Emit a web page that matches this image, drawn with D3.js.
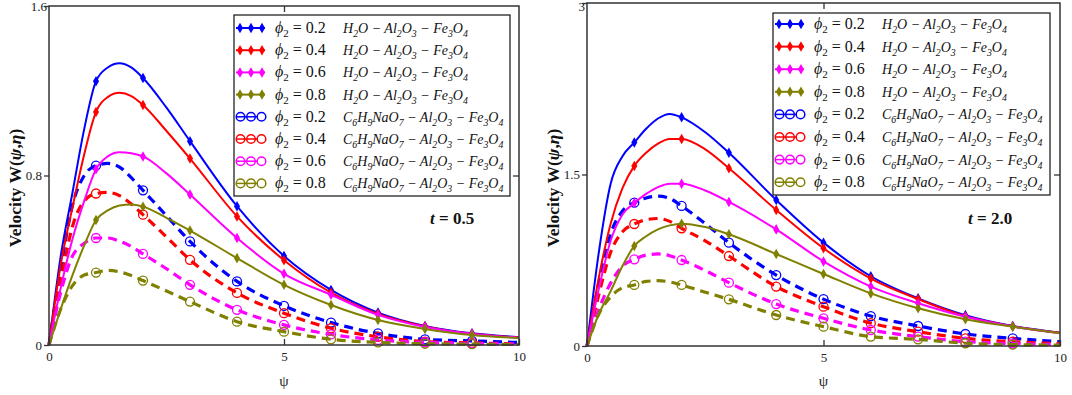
<!DOCTYPE html>
<html>
<head>
<meta charset="utf-8">
<script src="https://cdn.jsdelivr.net/npm/d3@7"></script>
<style>
  body { margin: 0; background: #fff; }
  svg { display: block; }
</style>
</head>
<body>
<svg width="1072" height="395"></svg>
<script>
// psi grid used for every series
var psi = [0, 0.25, 0.5, 0.75, 1, 1.25, 1.5, 1.75, 2, 2.5, 3, 4, 5, 6, 7, 8, 9, 10]
var phiLabels = ["0.2", "0.4", "0.6", "0.8"]
var markerPsi = [1, 2, 3, 4, 5, 6, 7, 8, 9]

// t = 0.5, H2O - Al2O3 - Fe3O4  (phi2 = 0.2, 0.4, 0.6, 0.8)
var h2oT05 = [
  [0, 0.42, 0.72, 1.02, 1.245, 1.31, 1.33, 1.31, 1.26, 1.12, 0.962, 0.655, 0.42, 0.26, 0.153, 0.09, 0.055, 0.037],
  [0, 0.38, 0.65, 0.9, 1.10, 1.17, 1.19, 1.175, 1.133, 1.01, 0.88, 0.607, 0.40, 0.247, 0.147, 0.088, 0.053, 0.035],
  [0, 0.27, 0.5, 0.68, 0.83, 0.89, 0.91, 0.905, 0.89, 0.81, 0.71, 0.505, 0.336, 0.237, 0.142, 0.085, 0.052, 0.034],
  [0, 0.17, 0.33, 0.47, 0.59, 0.635, 0.658, 0.663, 0.653, 0.60, 0.54, 0.41, 0.284, 0.189, 0.118, 0.076, 0.047, 0.033]
]
// t = 0.5, C6H9NaO7 - Al2O3 - Fe3O4
var citT05 = [
  [0, 0.36, 0.66, 0.8, 0.847, 0.857, 0.84, 0.79, 0.73, 0.61, 0.489, 0.30, 0.185, 0.106, 0.055, 0.027, 0.019, 0.012],
  [0, 0.3, 0.56, 0.68, 0.715, 0.72, 0.705, 0.665, 0.615, 0.51, 0.402, 0.246, 0.15, 0.079, 0.039, 0.016, 0.01, 0.006],
  [0, 0.25, 0.42, 0.48, 0.505, 0.505, 0.49, 0.465, 0.43, 0.36, 0.284, 0.166, 0.095, 0.05, 0.024, 0.012, 0.007, 0.004],
  [0, 0.17, 0.28, 0.33, 0.342, 0.352, 0.345, 0.328, 0.304, 0.255, 0.205, 0.11, 0.063, 0.027, 0.012, 0.006, 0.004, 0.003]
]
// t = 2.0, H2O - Al2O3 - Fe3O4
var h2oT20 = [
  [0, 0.82, 1.42, 1.66, 1.78, 1.9, 1.99, 2.03, 2.0, 1.87, 1.69, 1.277, 0.904, 0.61, 0.417, 0.27, 0.175, 0.117],
  [0, 0.6, 1.07, 1.38, 1.575, 1.69, 1.77, 1.81, 1.81, 1.72, 1.555, 1.19, 0.855, 0.59, 0.41, 0.26, 0.172, 0.115],
  [0, 0.5, 0.92, 1.15, 1.25, 1.33, 1.39, 1.42, 1.42, 1.36, 1.26, 1.02, 0.74, 0.52, 0.374, 0.256, 0.17, 0.112],
  [0, 0.28, 0.48, 0.7, 0.875, 0.96, 1.02, 1.055, 1.07, 1.04, 0.977, 0.805, 0.63, 0.46, 0.33, 0.234, 0.169, 0.111]
]
// t = 2.0, C6H9NaO7 - Al2O3 - Fe3O4
var citT20 = [
  [0, 0.55, 0.98, 1.18, 1.254, 1.295, 1.31, 1.29, 1.225, 1.07, 0.904, 0.62, 0.41, 0.262, 0.175, 0.105, 0.067, 0.038],
  [0, 0.45, 0.82, 1.0, 1.067, 1.105, 1.115, 1.09, 1.03, 0.92, 0.787, 0.52, 0.344, 0.2, 0.125, 0.067, 0.038, 0.02],
  [0, 0.32, 0.55, 0.7, 0.758, 0.795, 0.805, 0.79, 0.752, 0.66, 0.554, 0.367, 0.242, 0.14, 0.082, 0.038, 0.022, 0.012],
  [0, 0.28, 0.43, 0.51, 0.534, 0.565, 0.571, 0.56, 0.534, 0.47, 0.408, 0.271, 0.169, 0.082, 0.058, 0.024, 0.012, 0.008]
]

var colors = ["#0000ff", "#ff0000", "#ff00ff", "#808000"]
var fluidH2O = "H_2O − Al_2O_3 − Fe_3O_4"
var fluidCit = "C_6H_9NaO_7 − Al_2O_3 − Fe_3O_4"

var serif = "'Liberation Serif', 'Times New Roman', serif"

var panels = [
  { t: "0.5", h2o: h2oT05, cit: citT05, yMax: 1.6, yTicks: [0, 0.8, 1.6],
    x0: 49, x1: 519, y0: 6, y1: 345, legX: 234, legY: 15, legW: 276, legH: 181, row0: 28, rowH: 22.2, tX: 430 },
  { t: "2.0", h2o: h2oT20, cit: citT20, yMax: 3, yTicks: [0, 1.5, 3],
    x0: 587, x1: 1060, y0: 3, y1: 346, legX: 773, legY: 13, legW: 277, legH: 182, row0: 24, rowH: 22.6, tX: 968 }
]

var svg = d3.select("svg")

// write "A_2B" style strings as text with subscript tspans
function richText(sel, str, size) {
  var parts = str.split(/_(\d)/)
  parts.forEach(function(s, i) {
    if (s === "") return
    var sub = i % 2 == 1
    sel.append("tspan")
      .attr("font-size", sub ? size * 0.7 : size)
      .attr("dy", sub ? 4 : (i > 0 && (i - 1) % 2 == 1 ? -4 : 0))
      .text(s)
  })
}

function drawPanel(p) {
  var x = d3.scaleLinear().domain([0, 10]).range([p.x0, p.x1])
  var y = d3.scaleLinear().domain([0, p.yMax]).range([p.y1, p.y0])
  var g = svg.append("g")

  var line = d3.line()
    .x(function(d) { return x(d[0]) })
    .y(function(d) { return y(d[1]) })
    .curve(d3.curveMonotoneX)

  // dashed curves first, then solid on top
  p.cit.forEach(function(vals, i) {
    var pts = psi.map(function(v, k) { return [v, vals[k]] })
    g.append("path").datum(pts)
      .attr("d", line)
      .attr("fill", "none")
      .attr("stroke", colors[i])
      .attr("stroke-width", 3.2)
      .attr("stroke-dasharray", "9,6")
    g.selectAll(null)
      .data(pts.filter(function(d) { return markerPsi.indexOf(d[0]) >= 0 }))
      .enter().append("circle")
      .attr("cx", function(d) { return x(d[0]) })
      .attr("cy", function(d) { return y(d[1]) })
      .attr("r", 4.5)
      .attr("fill", "none")
      .attr("stroke", colors[i])
      .attr("stroke-width", 1.3)
  })
  p.h2o.forEach(function(vals, i) {
    var pts = psi.map(function(v, k) { return [v, vals[k]] })
    g.append("path").datum(pts)
      .attr("d", line)
      .attr("fill", "none")
      .attr("stroke", colors[i])
      .attr("stroke-width", 2)
    g.selectAll(null)
      .data(pts.filter(function(d) { return markerPsi.indexOf(d[0]) >= 0 }))
      .enter().append("path")
      .attr("transform", function(d) { return "translate(" + x(d[0]) + "," + y(d[1]) + ")" })
      .attr("d", d3.symbol(d3.symbolDiamond, 32))
      .attr("fill", colors[i])
  })

  // frame
  g.append("rect")
    .attr("x", p.x0).attr("y", p.y0)
    .attr("width", p.x1 - p.x0).attr("height", p.y1 - p.y0)
    .attr("fill", "none").attr("stroke", "#333").attr("stroke-width", 1.5)

  // axes
  var fmt = d3.format("~g")
  var bottom = g.append("g").attr("transform", "translate(0," + p.y1 + ")")
    .call(d3.axisBottom(x).tickValues([0, 5, 10]).tickSizeInner(-6).tickSizeOuter(0).tickPadding(7).tickFormat(fmt))
  var left = g.append("g").attr("transform", "translate(" + p.x0 + ",0)")
    .call(d3.axisLeft(y).tickValues(p.yTicks).tickSizeInner(5).tickSizeOuter(0).tickPadding(2).tickFormat(fmt))
  var top = g.append("g").attr("transform", "translate(0," + p.y0 + ")")
    .call(d3.axisTop(x).tickValues([5]).tickSizeInner(-6).tickSizeOuter(0).tickFormat(""))
  var right = g.append("g").attr("transform", "translate(" + p.x1 + ",0)")
    .call(d3.axisRight(y).tickValues([p.yTicks[1]]).tickSizeInner(-6).tickSizeOuter(0).tickFormat(""))
  ;[bottom, left, top, right].forEach(function(a) {
    a.select(".domain").remove()
    a.selectAll("line").attr("stroke", "#333").attr("stroke-width", 1.3)
    a.selectAll("text").attr("font-family", serif).attr("font-size", 13).attr("fill", "#222")
  })
  // keep the top y label inside the picture
  left.selectAll(".tick text").filter(function(d) { return d == p.yMax })
    .attr("dy", "0.75em").attr("y", 0).attr("x", -2)
    .attr("transform", "translate(0," + (-p.y0 + 1) + ")")

  // axis titles
  g.append("text")
    .attr("x", (p.x0 + p.x1) / 2).attr("y", 386)
    .attr("text-anchor", "middle")
    .attr("font-family", serif).attr("font-size", 15).attr("fill", "#222")
    .text("ψ")

  var yt = g.append("text")
    .attr("transform", "translate(" + (p.x0 - 28) + "," + 188 + ") rotate(-90)")
    .attr("text-anchor", "middle")
    .attr("font-family", serif).attr("font-size", 17.5).attr("font-weight", "bold").attr("fill", "#111")
  yt.append("tspan").text("Velocity   W(")
  yt.append("tspan").attr("font-style", "italic").text("ψ")
  yt.append("tspan").text(",")
  yt.append("tspan").attr("font-style", "italic").text("η")
  yt.append("tspan").text(")")

  // t label
  var tl = g.append("text")
    .attr("x", p.tX).attr("y", 224)
    .attr("font-family", serif).attr("font-size", 17).attr("font-weight", "bold").attr("fill", "#111")
  tl.append("tspan").attr("font-style", "italic").text("t")
  tl.append("tspan").text(" = " + p.t)

  // legend
  var leg = g.append("g")
  leg.append("rect")
    .attr("x", p.legX).attr("y", p.legY)
    .attr("width", p.legW).attr("height", p.legH)
    .attr("fill", "#fff").attr("stroke", "#111").attr("stroke-width", 1.2)

  var rows = d3.range(8)
  rows.forEach(function(r) {
    var ci = r % 4
    var cy = p.row0 + r * p.rowH
    var sx = p.legX + 2
    if (r < 4) {
      leg.append("line")
        .attr("x1", sx).attr("x2", sx + 29).attr("y1", cy).attr("y2", cy)
        .attr("stroke", colors[ci]).attr("stroke-width", 2)
      ;[4, 15, 26].forEach(function(dx) {
        leg.append("path")
          .attr("transform", "translate(" + (sx + dx) + "," + cy + ")")
          .attr("d", d3.symbol(d3.symbolDiamond, 32))
          .attr("fill", colors[ci])
      })
    } else {
      leg.append("line")
        .attr("x1", sx).attr("x2", sx + 22).attr("y1", cy).attr("y2", cy)
        .attr("stroke", colors[ci]).attr("stroke-width", 1.5)
      ;[4.5, 15, 25.5].forEach(function(dx) {
        leg.append("circle")
          .attr("cx", sx + dx).attr("cy", cy).attr("r", 4.3)
          .attr("fill", "none").attr("stroke", colors[ci]).attr("stroke-width", 1.5)
      })
    }
    var t1 = leg.append("text")
      .attr("x", p.legX + 41).attr("y", cy + 5)
      .attr("font-family", serif).attr("font-size", 16).attr("fill", "#111")
    t1.append("tspan").attr("font-style", "italic").text("ϕ")
    t1.append("tspan").attr("font-size", 11).attr("dy", 4).text("2")
    t1.append("tspan").attr("dy", -4).text(" = " + phiLabels[ci])

    var t2 = leg.append("text")
      .attr("x", p.legX + 109).attr("y", cy + 5)
      .attr("font-family", serif).attr("font-size", 14).attr("font-style", "italic").attr("fill", "#111")
    richText(t2, r < 4 ? fluidH2O : fluidCit, 14)
  })
}

panels.forEach(drawPanel)
</script>
</body>
</html>
